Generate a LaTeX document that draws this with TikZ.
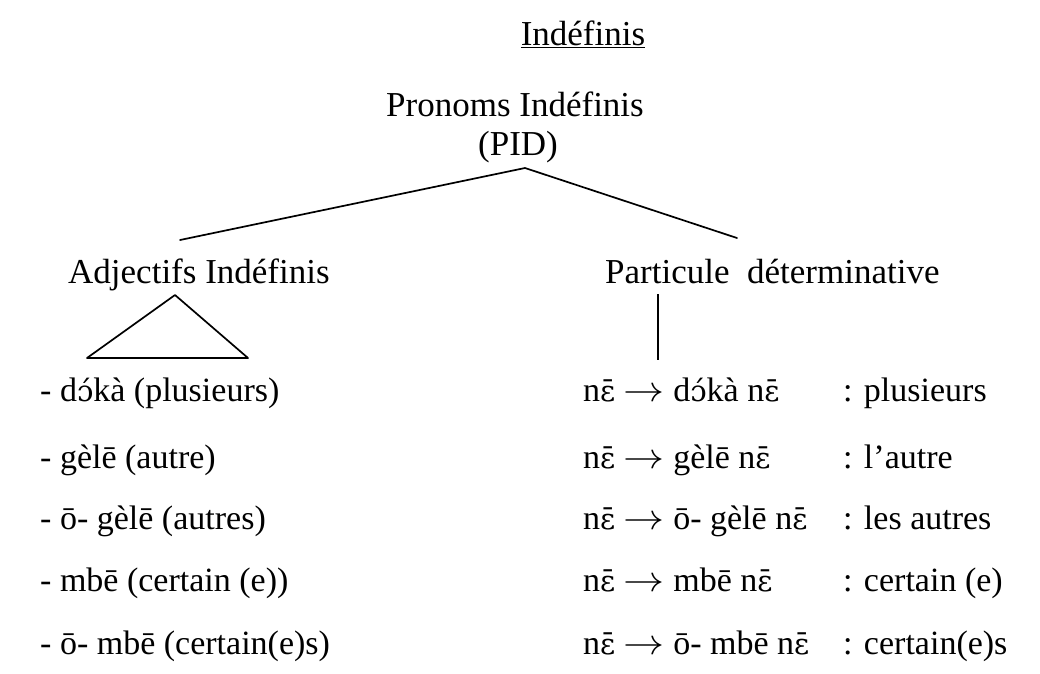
\documentclass[tikz,border=0pt]{standalone}
\usepackage{graphicx}
\usepackage{fontspec}
\setmainfont{Liberation Serif}
% IPA letters with combining marks
\newfontfamily\ipafont{DejaVu Serif}[Scale=0.86]
\newcommand\epsbar{{\ipafont ɛ̄}}
\newcommand\oacuteopen{{\ipafont ɔ́}}
\newcommand\nepart{n\epsbar}
\newcommand\doka{d\oacuteopen kà}
% thin math arrow, set at 10pt and enlarged
\newcommand\toarrow{ \scalebox{4.1}[3.6]{\fontsize{10}{12}\selectfont$\rightarrow$} }
\begin{document}
\begin{tikzpicture}[x=1pt,y=-1pt,
  lbl/.style={inner sep=0pt, font=\fontsize{34}{40}\selectfont},
  head/.style={lbl, anchor=base},
  row/.style={lbl, anchor=base west},
  branch/.style={line width=1.7pt, line join=round, line cap=round}]
\useasboundingbox (0,0) rectangle (1040,673);

% title and root
\node[head, font=\fontsize{35}{40}\selectfont] (title) at (583,45) {\underline{Indéfinis}};
\node[head, font=\fontsize{35}{40}\selectfont] (root) at (515,116) {Pronoms Indéfinis};
\node[head, font=\fontsize{35}{40}\selectfont] (pid) at (518,155) {(PID)};

% two branches
\node[row, font=\fontsize{35}{40}\selectfont] (adj) at (68,283) {Adjectifs Indéfinis};
\node[row, font=\fontsize{35}{40}\selectfont] (part) at (605,283) {Particule\ \ déterminative};

\coordinate (apex) at (525,168);
\coordinate (adjtop) at (180,240);
\coordinate (parttop) at (737,238);
\draw[branch] (adjtop) -- (apex) -- (parttop);

% triangle under the adjectives
\coordinate (triA) at (175,295);
\coordinate (triL) at (87,358);
\coordinate (triR) at (248,358);
\draw[branch] (triA) -- (triL) -- (triR) -- cycle;

% stem under the particle
\coordinate (stemtop) at (658,294);
\coordinate (stembot) at (658,360);
\draw[line width=1.3pt] (stemtop) -- (stembot);

% left column
\node[row] (l1) at (40,401) {- \doka{} (plusieurs)};
\node[row] (l2) at (40,468) {- gèlē (autre)};
\node[row] (l3) at (40,529) {- ō- gèlē (autres)};
\node[row] (l4) at (40,591) {- mbē (certain (e))};
\node[row] (l5) at (40,654) {- ō- mbē (certain(e)s)};

% right column
\node[row] (r1) at (583,401) {\nepart\toarrow\doka{} \nepart};
\node[row] (r2) at (583,468) {\nepart\toarrow gèlē \nepart};
\node[row] (r3) at (583,529) {\nepart\toarrow ō- gèlē \nepart};
\node[row] (r4) at (583,591) {\nepart\toarrow mbē \nepart};
\node[row] (r5) at (583,654) {\nepart\toarrow ō- mbē \nepart};

\node[row] (g1) at (843,401) {: plusieurs};
\node[row] (g2) at (843,468) {: l’autre};
\node[row] (g3) at (843,529) {: les autres};
\node[row] (g4) at (843,591) {: certain (e)};
\node[row] (g5) at (843,654) {: certain(e)s};
\end{tikzpicture}
\end{document}
